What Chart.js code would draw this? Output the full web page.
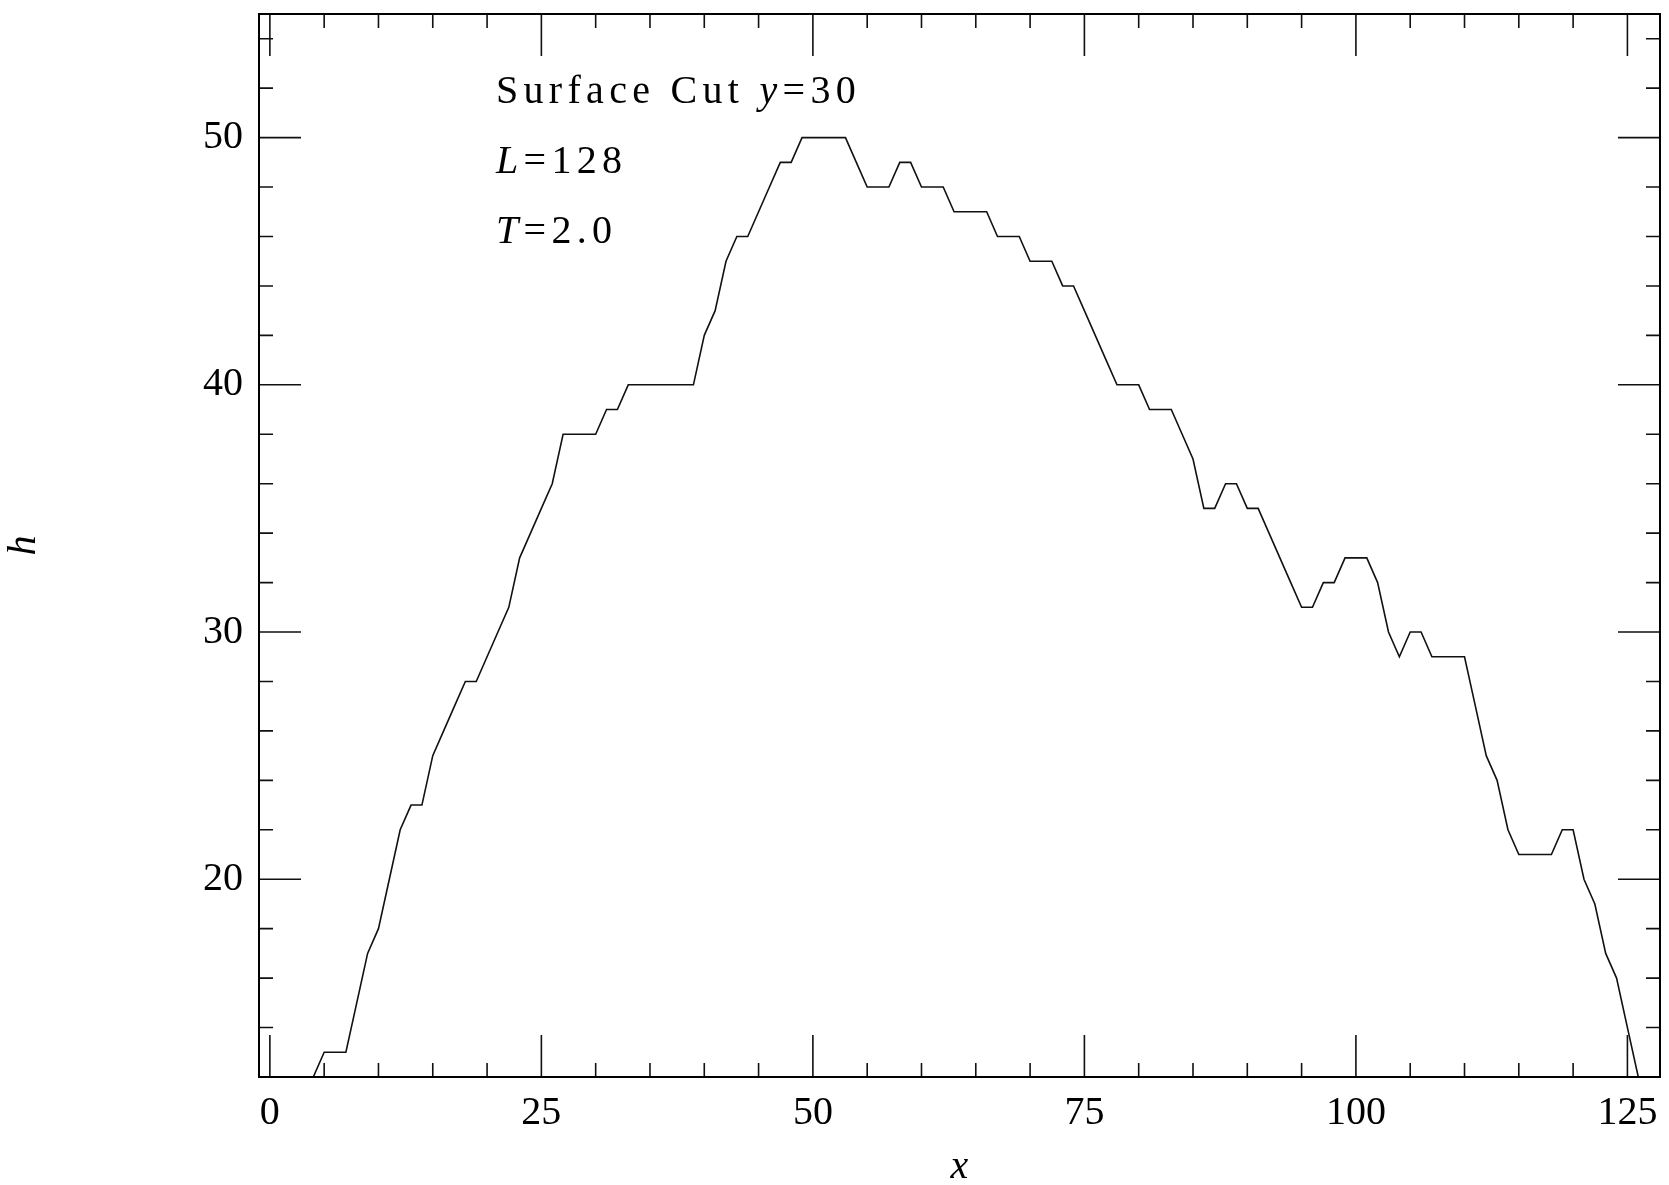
<!DOCTYPE html>
<html lang="en">
<head>
<meta charset="UTF-8">
<title>Surface Cut</title>
<style>
  html, body { margin: 0; padding: 0; background: #fff; }
</style>
</head>
<body>
<canvas id="grafico" width="1669" height="1185"></canvas>

<script src="https://cdn.jsdelivr.net/npm/chart.js"></script>
<script>
    // surface cut data: position along the cut and surface height
    const posX = [
        0, 1, 2, 3, 4, 5, 6, 7, 8, 9, 10, 11, 12, 13, 14, 15, 16, 17, 18, 19,
        20, 21, 22, 23, 24, 25, 26, 27, 28, 29, 30, 31, 32, 33, 34, 35, 36, 37, 38, 39,
        40, 41, 42, 43, 44, 45, 46, 47, 48, 49, 50, 51, 52, 53, 54, 55, 56, 57, 58, 59,
        60, 61, 62, 63, 64, 65, 66, 67, 68, 69, 70, 71, 72, 73, 74, 75, 76, 77, 78, 79,
        80, 81, 82, 83, 84, 85, 86, 87, 88, 89, 90, 91, 92, 93, 94, 95, 96, 97, 98, 99,
        100, 101, 102, 103, 104, 105, 106, 107, 108, 109, 110, 111, 112, 113, 114, 115,
        116, 117, 118, 119, 120, 121, 122, 123, 124, 125, 126, 127
    ];
    const alturaH = [
        12, 12, 12, 12, 12, 13, 13, 13, 15, 17, 18, 20, 22, 23, 23, 25, 26, 27, 28, 28,
        29, 30, 31, 33, 34, 35, 36, 38, 38, 38, 38, 39, 39, 40, 40, 40, 40, 40, 40, 40,
        42, 43, 45, 46, 46, 47, 48, 49, 49, 50, 50, 50, 50, 50, 49, 48, 48, 48, 49, 49,
        48, 48, 48, 47, 47, 47, 47, 46, 46, 46, 45, 45, 45, 44, 44, 43, 42, 41, 40, 40,
        40, 39, 39, 39, 38, 37, 35, 35, 36, 36, 35, 35, 34, 33, 32, 31, 31, 32, 32, 33,
        33, 33, 32, 30, 29, 30, 30, 29, 29, 29, 29, 27, 25, 24, 22, 21, 21, 21, 21, 22,
        22, 20, 19, 17, 16, 14, 12, 10
    ];

    // tick values
    const ticksX = [0, 25, 50, 75, 100, 125];
    const ticksXmenor = [0, 5, 10, 15, 20, 25, 30, 35, 40, 45, 50, 55, 60, 65, 70, 75, 80, 85, 90, 95, 100, 105, 110, 115, 120, 125];
    const ticksY = [20, 30, 40, 50];
    const ticksYmenor = [14, 16, 18, 20, 22, 24, 26, 28, 30, 32, 34, 36, 38, 40, 42, 44, 46, 48, 50, 52, 54];

    const pontos = posX.map(function (x, i) { return { x: x, y: alturaH[i] }; });

    const fonte = 'Liberation Serif';

    // box around the plot + inward ticks on all four sides
    const moldura = {
        id: 'moldura',
        afterDraw(chart) {
            const c = chart.ctx;
            const a = chart.chartArea;
            const sx = chart.scales.x;
            const sy = chart.scales.y;
            c.save();
            c.strokeStyle = '#111';
            c.lineWidth = 1.6;
            c.beginPath();
            ticksXmenor.forEach(function (v) {
                const px = sx.getPixelForValue(v);
                const len = ticksX.includes(v) ? 42 : 14;
                c.moveTo(px, a.bottom); c.lineTo(px, a.bottom - len);
                c.moveTo(px, a.top); c.lineTo(px, a.top + len);
            });
            ticksYmenor.forEach(function (v) {
                const py = sy.getPixelForValue(v);
                const len = ticksY.includes(v) ? 42 : 14;
                c.moveTo(a.left, py); c.lineTo(a.left + len, py);
                c.moveTo(a.right, py); c.lineTo(a.right - len, py);
            });
            c.stroke();
            c.lineWidth = 2;
            c.strokeStyle = '#000';
            c.strokeRect(a.left, a.top, a.right - a.left, a.bottom - a.top);
            c.restore();
        }
    };

    // text block in the upper left of the plot
    const linhasTexto = [
        [['Surface Cut ', false], ['y', true], ['=30', false]],
        [['L', true], ['=128', false]],
        [['T', true], ['=2.0', false]]
    ];
    const rotulos = {
        id: 'rotulos',
        afterDraw(chart) {
            const c = chart.ctx;
            const a = chart.chartArea;
            c.save();
            c.fillStyle = '#000';
            c.textBaseline = 'alphabetic';
            c.textAlign = 'left';
            c.letterSpacing = '5.3px';
            const bases = [103, 173, 243];
            linhasTexto.forEach(function (linha, i) {
                let x = a.left + 237;
                linha.forEach(function (p) {
                    c.font = (p[1] ? 'italic ' : '') + '40px "' + fonte + '"';
                    c.fillText(p[0], x, bases[i]);
                    x += c.measureText(p[0]).width;
                });
            });
            c.restore();
        }
    };

    new Chart(document.getElementById('grafico'), {
        type: 'line',
        data: {
            datasets: [{
                data: pontos,
                borderColor: '#111',
                borderWidth: 1.6,
                pointRadius: 0,
                tension: 0,
                fill: false
            }]
        },
        options: {
            responsive: false,
            animation: false,
            layout: { padding: { top: 14, right: 9, left: 0, bottom: 0 } },
            plugins: {
                legend: { display: false },
                tooltip: { enabled: false }
            },
            scales: {
                x: {
                    type: 'linear',
                    min: -1,
                    max: 128,
                    grid: { display: false, drawTicks: false },
                    border: { display: false },
                    afterBuildTicks: function (s) { s.ticks = ticksX.map(function (v) { return { value: v }; }); },
                    afterFit: function (s) { s.height = 108; s.paddingLeft = 0; s.paddingRight = 0; },
                    ticks: { font: { family: fonte, size: 40 }, color: '#000', padding: 12, maxRotation: 0, autoSkip: false },
                    title: { display: true, text: 'x', color: '#000', padding: 0, font: { family: fonte, size: 40, style: 'italic', lineHeight: 0.9 } }
                },
                y: {
                    type: 'linear',
                    min: 12,
                    max: 55,
                    grid: { display: false, drawTicks: false },
                    border: { display: false },
                    afterBuildTicks: function (s) { s.ticks = ticksY.map(function (v) { return { value: v }; }); },
                    afterFit: function (s) { s.width = 259; s.paddingTop = 0; s.paddingBottom = 0; },
                    ticks: { font: { family: fonte, size: 40 }, color: '#000', padding: 16, autoSkip: false },
                    title: { display: true, text: 'h', color: '#000', padding: 0, font: { family: fonte, size: 40, style: 'italic' } }
                }
            }
        },
        plugins: [moldura, rotulos]
    });
</script>
</body>
</html>
